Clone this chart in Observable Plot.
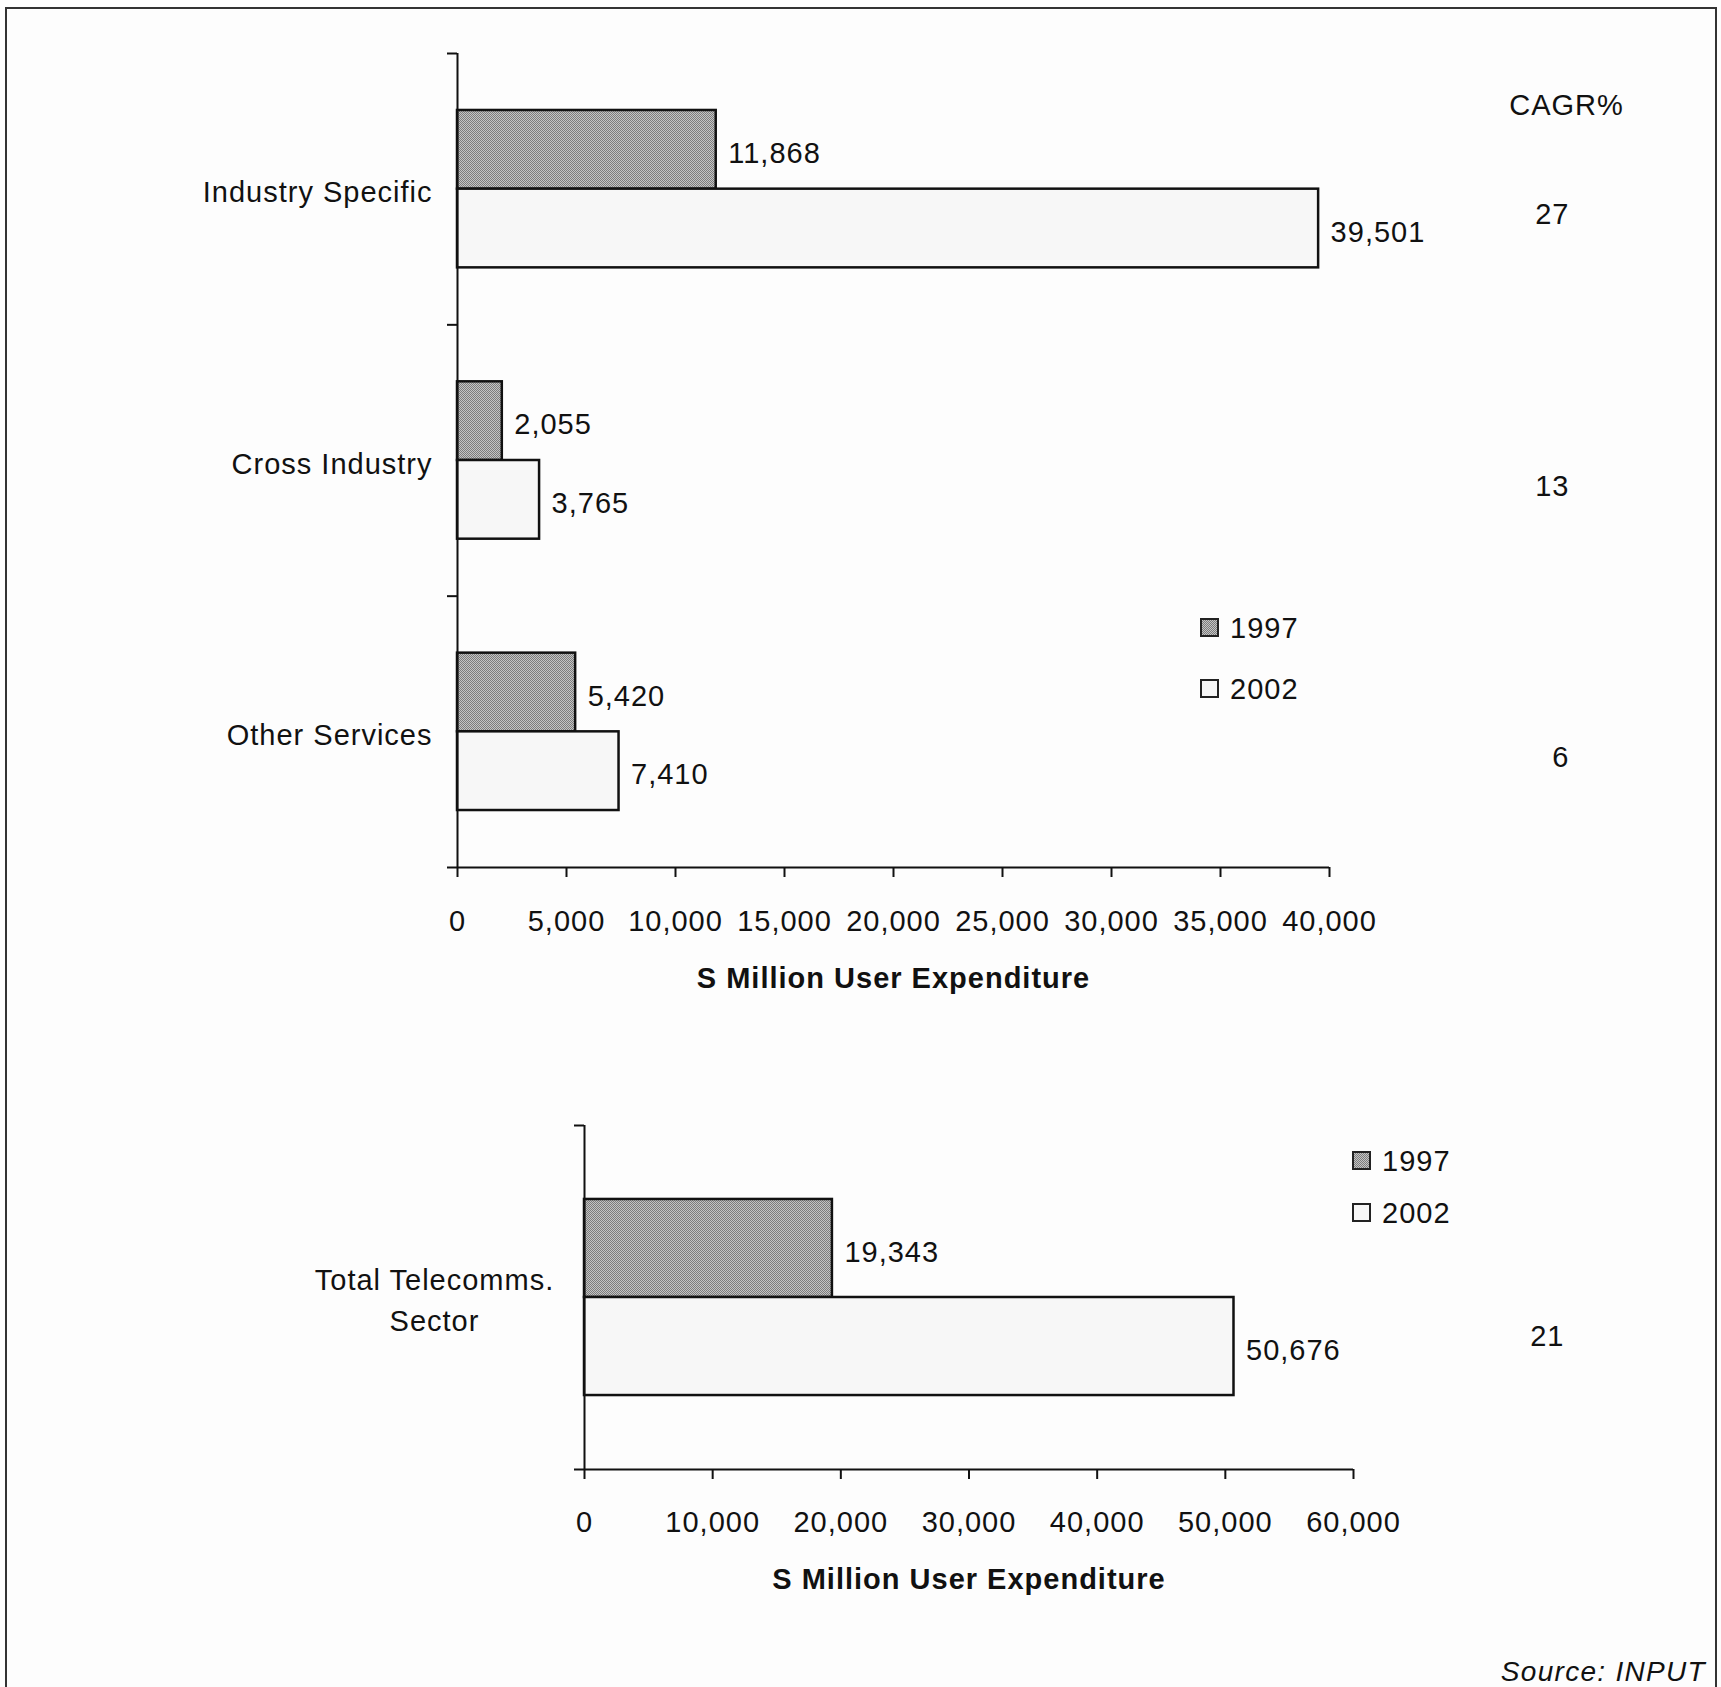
<!DOCTYPE html>
<html>
<head>
<meta charset="utf-8">
<script src="https://cdn.jsdelivr.net/npm/d3@7"></script>
<script src="https://cdn.jsdelivr.net/npm/@observablehq/plot@0.6"></script>
<style>
  html, body { margin: 0; padding: 0; background: #fdfdfd; overflow: hidden; }
  #page { position: relative; width: 1721px; height: 1687px; font-family: "Liberation Sans", Arial, Helvetica, sans-serif; color: #111; }
  #frame { position: absolute; left: 5px; top: 7px; width: 1712px; height: 1720px; border: 2px solid #333; border-bottom: none; box-sizing: border-box; }
  .chart { position: absolute; left: 0; }
  .sw { position: absolute; width: 19px; height: 19px; box-sizing: border-box; border: 2px solid #222; }
  .sw97 { background-color: #a0a0a0; background-image: repeating-conic-gradient(#7c7c7c 0 25%, #c4c4c4 0 50%); background-size: 2px 2px; }
  .sw02 { background: #f7f7f7; }
  .lt { position: absolute; font-size: 29px; line-height: 29px; letter-spacing: 1px; white-space: nowrap; }
  #source { position: absolute; right: 15px; top: 1658px; font-size: 28px; line-height: 28px; font-style: italic; letter-spacing: 1.3px; }
</style>
</head>
<body>
<div id="page">
  <div id="frame"></div>
  <div id="top" class="chart" style="top:0px"></div>
  <div id="bottom" class="chart" style="top:1040px"></div>
  <div id="legendTop"></div>
  <div id="legendBottom"></div>
  <div id="source">Source: INPUT</div>
</div>
<script>
// ---- data ----
const categories = ["Industry Specific", "Cross Industry", "Other Services"];
const years = ["1997", "2002"];
const values1997 = [11868, 2055, 5420];
const values2002 = [39501, 3765, 7410];
const cagr = [27, 13, 6];
const xTicksTop = [0, 5000, 10000, 15000, 20000, 25000, 30000, 35000, 40000];

const totalCategory = ["Total Telecomms.\nSector"];
const total1997 = [19343];
const total2002 = [50676];
const totalCagr = [21];
const xTicksBottom = [0, 10000, 20000, 30000, 40000, 50000, 60000];

const cagrHeader = "CAGR%";
const axisTitle = "S Million User Expenditure";

const FONT = '"Liberation Sans", Arial, Helvetica, sans-serif';
const fmt = d3.format(",");

function defsMark(id) {
  return () => {
    const ns = "http://www.w3.org/2000/svg";
    const defs = document.createElementNS(ns, "defs");
    defs.innerHTML = `<pattern id="${id}" width="2" height="2" patternUnits="userSpaceOnUse">
      <rect width="2" height="2" fill="#c4c4c4"/>
      <rect width="1" height="1" fill="#7c7c7c"/>
      <rect x="1" y="1" width="1" height="1" fill="#7c7c7c"/></pattern>`;
    return defs;
  };
}

function makeChart(o) {
  const rows = [];
  o.cats.forEach((c, i) => {
    rows.push({cat: c, i, year: years[0], value: o.v97[i]});
    rows.push({cat: c, i, year: years[1], value: o.v02[i]});
  });
  const h = o.half;
  const r97 = rows.filter(d => d.year === years[0]);
  const r02 = rows.filter(d => d.year === years[1]);
  const n = o.cats.length;
  const marks = [
    defsMark(o.patId),
    Plot.rect(r97, {x1: 0, x2: "value", y1: d => d.i + 0.5 - h, y2: d => d.i + 0.5,
      fill: `url(#${o.patId})`, stroke: "#111", strokeWidth: 2.5}),
    Plot.rect(r02, {x1: 0, x2: "value", y1: d => d.i + 0.5, y2: d => d.i + 0.5 + h,
      fill: "#f7f7f7", stroke: "#111", strokeWidth: 2.5}),
    Plot.ruleX([0], {stroke: "#111", strokeWidth: 2}),
    Plot.ruleY([n], {stroke: "#111", strokeWidth: 2}),
    Plot.axisX({ticks: o.ticks, tickSize: 10, tickPadding: o.tickPad, tickFormat: fmt,
      label: null, stroke: "#111", strokeWidth: 2, fontSize: 29}),
    Plot.axisY({ticks: d3.range(n + 1), tickSize: 10, tickFormat: () => "",
      label: null, stroke: "#111", strokeWidth: 2}),
    Plot.text(rows, {x: "value", y: d => d.year === years[0] ? d.i + 0.5 - h / 2 : d.i + 0.5 + h / 2,
      text: d => fmt(d.value), dx: 12, dy: 4, textAnchor: "start", lineAnchor: "middle", fill: "#111"}),
    Plot.text(o.cats, {y: (d, i) => i + 0.5, text: d => d, frameAnchor: "left",
      textAnchor: o.catAnchor, dx: o.catDx, lineAnchor: "middle", lineHeight: 1.4, fill: "#111"}),
    Plot.text(o.cg, {y: (d, i) => i + 0.5, text: d => String(d), frameAnchor: "right",
      textAnchor: "end", dx: o.cagrDx, dy: o.cagrDy, lineAnchor: "middle", fill: "#111"}),
    Plot.text([axisTitle], {frameAnchor: "bottom", dy: o.titleDy, text: d => d, lineAnchor: "middle",
      fontWeight: "bold", fontSize: 29, fill: "#111"})
  ];
  if (o.header) {
    marks.push(Plot.text([o.header], {frameAnchor: "top-right", dx: o.headerDx, dy: o.headerDy,
      text: d => d, textAnchor: "middle", lineAnchor: "middle", fill: "#111"}));
  }
  return Plot.plot({
    width: 1721, height: o.height,
    marginLeft: o.ml, marginRight: o.mr, marginTop: o.mt, marginBottom: o.mb,
    style: {fontFamily: FONT, fontSize: "29px", letterSpacing: "1px", color: "#111",
      background: "transparent", overflow: "visible"},
    x: {domain: [0, o.xmax]},
    y: {domain: [0, n], reverse: true},
    marks
  });
}

document.getElementById("top").append(makeChart({
  cats: categories, v97: values1997, v02: values2002, cg: cagr, ticks: xTicksTop, xmax: 40000,
  height: 1030, ml: 457, mr: 1721 - 1329, mt: 53, mb: 1030 - 867, half: 0.29, tickPad: 33,
  catAnchor: "end", catDx: -25, cagrDx: 240, cagrDy: 26, titleDy: 111,
  header: cagrHeader, headerDx: 237, headerDy: 52, patId: "stipTop"
}));

document.getElementById("bottom").append(makeChart({
  cats: totalCategory, v97: total1997, v02: total2002, cg: totalCagr, ticks: xTicksBottom, xmax: 60000,
  height: 600, ml: 584, mr: 1721 - 1353, mt: 85, mb: 600 - 429, half: 0.285, tickPad: 32,
  catAnchor: "middle", catDx: -150, cagrDx: 211, cagrDy: 39, titleDy: 110,
  header: null, patId: "stipBottom"
}));

function legend(el, x, tops) {
  years.forEach((y, k) => {
    const sw = document.createElement("div");
    sw.className = "sw " + (k === 0 ? "sw97" : "sw02");
    sw.style.left = x + "px";
    sw.style.top = (tops[k] - 10) + "px";
    el.append(sw);
    const t = document.createElement("div");
    t.className = "lt";
    t.textContent = y;
    t.style.left = (x + 30) + "px";
    t.style.top = (tops[k] - 14) + "px";
    el.append(t);
  });
}
legend(document.getElementById("legendTop"), 1200, [628, 689]);
legend(document.getElementById("legendBottom"), 1352, [1161, 1213]);
</script>
</body>
</html>
